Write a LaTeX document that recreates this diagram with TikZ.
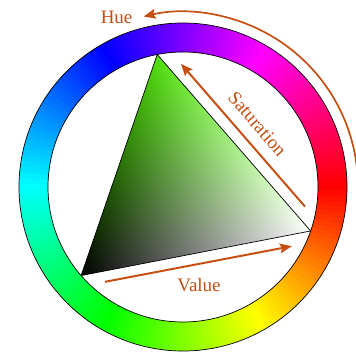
\documentclass[tikz,border=0pt]{standalone}
\usepackage{fontspec}
\setmainfont{Liberation Serif}
\usetikzlibrary{arrows.meta}

\definecolor{hsvorange}{RGB}{198,78,16}

% triangle: green (top), white (right), black (bottom left), barycentric mix
\pgfdeclarefunctionalshading{hsvtriangle}{\pgfpointorigin}{\pgfpoint{100bp}{100bp}}{}{
  1 index 0.0209649 mul 1 index -0.0002715 mul add -0.526364 add
  2 index 0.0184321 mul 2 index 0.0127586 mul add -0.797000 add
  3 index 0.0221861 mul 3 index -0.0065539 mul add -0.395878 add
  5 -2 roll pop pop
}

\begin{document}
\begin{tikzpicture}[
    arr/.style={draw=hsvorange, line width=1.4pt, -{Stealth[length=8.5pt,width=7pt,inset=1.5pt]}},
    lbl/.style={text=hsvorange, font=\fontsize{13.5}{16}\selectfont}]
  \useasboundingbox (-4.575,-4.225) rectangle (4.325,4.675);
  % hue ring
  \foreach \a in {0,2,...,358} {
    \pgfmathsetmacro\h{mod(360-\a,360)/360}
    \definecolor{huecol}{hsb}{\h,1,1}
    \fill[huecol] (\a-1.2:3.375) -- (\a-1.2:4.1) arc[start angle=\a-1.2, end angle=\a+1.2, radius=4.1]
      -- (\a+1.2:3.375) arc[start angle=\a+1.2, end angle=\a-1.2, radius=3.375] -- cycle;
  }
  \draw[line width=0.5pt] (0,0) circle (4.1);
  \draw[line width=0.5pt] (0,0) circle (3.375);
  % triangle
  \coordinate (G) at (101:3.375);
  \coordinate (W) at (341:3.375);
  \coordinate (K) at (221:3.375);
  \begin{scope}
    \clip (G) -- (W) -- (K) -- cycle;
    \shade[shading=hsvtriangle] (-2.6,-2.3) rectangle (3.4,3.7);
  \end{scope}
  \draw[line width=0.5pt, line join=round] (G) -- (W) -- (K) -- cycle;
  % arrows
  \coordinate (h1) at (0:4.375);
  \draw[arr, line width=1.2pt] (h1) arc[start angle=0, end angle=103, radius=4.375];
  \coordinate (s1) at (3.05,-0.49);
  \coordinate (s2) at (-0.05,3.08);
  \draw[arr] (s1) -- (s2);
  \coordinate (v1) at (-1.95,-2.37);
  \coordinate (v2) at (2.72,-1.48);
  \draw[arr] (v1) -- (v2);
  % labels
  \node[lbl] (hue) at (-1.66,4.24) {Hue};
  \node[lbl, rotate=-49] (sat) at (1.86,1.575) {Saturation};
  \node[lbl] (val) at (0.4,-2.45) {Value};
\end{tikzpicture}
\end{document}
